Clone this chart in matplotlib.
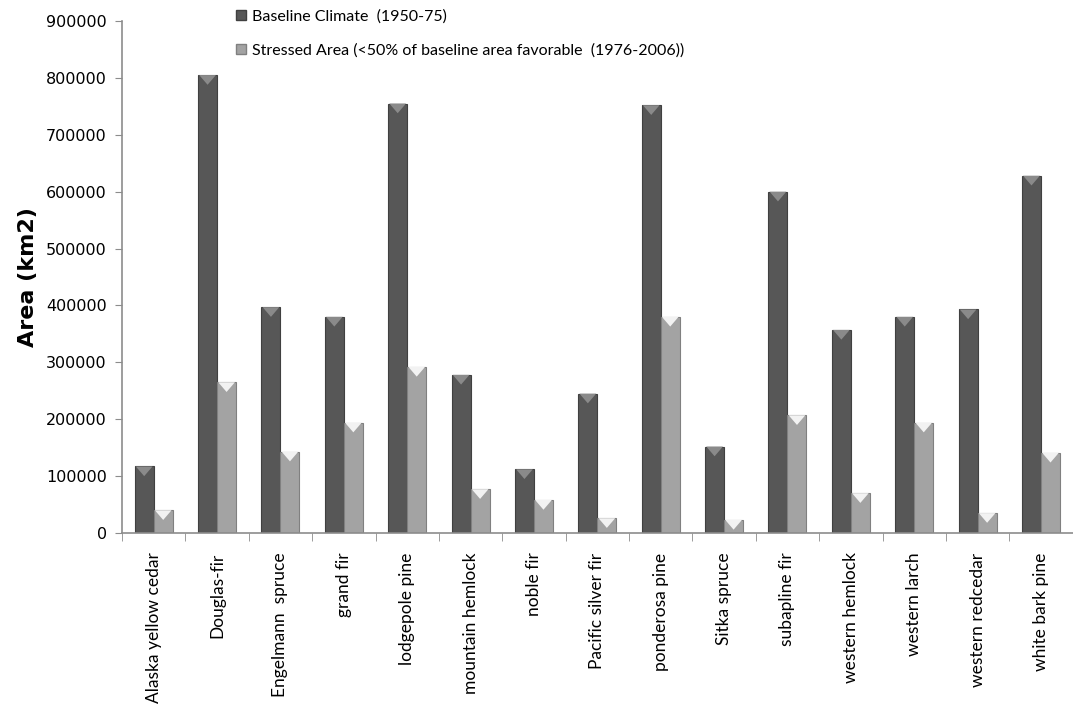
import numpy as np
import matplotlib.pyplot as plt
from matplotlib.patches import Patch, Polygon

species = ["Alaska yellow cedar", "Douglas-fir", "Engelmann  spruce", "grand fir",
           "lodgepole pine", "mountain hemlock", "noble fir", "Pacific silver fir",
           "ponderosa pine", "Sitka spruce", "subapline fir", "western hemlock",
           "western larch", "western redcedar", "white bark pine"]
baseline = [117000, 805000, 397000, 380000, 755000, 278000, 112000, 245000,
            752000, 152000, 600000, 357000, 380000, 393000, 628000]
stressed = [40000, 265000, 143000, 194000, 292000, 77000, 58000, 26000,
            380000, 23000, 207000, 70000, 194000, 35000, 141000]

label_font = ["Lato", "DejaVu Sans"]

fig = plt.figure(figsize=(10.73, 7.10), dpi=100)
ax = fig.add_axes([0.1137, 0.2493, 0.886, 0.7211])

x = np.arange(len(species))
w = 0.30
b1 = ax.bar(x - w / 2, baseline, w, color="#575757", edgecolor="#404040", linewidth=0.8)
b2 = ax.bar(x + w / 2, stressed, w, color="#a3a3a3", edgecolor="#808080", linewidth=0.8)

ax.set_xlim(-0.5, len(species) - 0.5)
ax.set_ylim(0, 900000)

# bevelled top on each bar
depth = 0.019 * 900000
for bars, shade in [(b1, "#8a8a8a"), (b2, "#f2f2f2")]:
    for p in bars:
        x0, bw, h = p.get_x(), p.get_width(), p.get_height()
        ax.add_patch(Polygon([(x0 + 0.06 * bw, h), (x0 + 0.94 * bw, h),
                              (x0 + 0.5 * bw, h - depth)],
                             closed=True, facecolor=shade, edgecolor="none", zorder=3))

ax.set_yticks(np.arange(0, 900001, 100000))
ax.set_yticklabels([str(v) for v in range(0, 900001, 100000)], fontsize=11.5)

# category labels in the middle, tick marks at the boundaries
ax.set_xticks(x)
ax.set_xticklabels(species, rotation=90, fontsize=12.5, family=label_font)
ax.tick_params(axis="x", length=0, pad=14)
ax.set_xticks(np.arange(-0.5, len(species), 1), minor=True)
ax.tick_params(axis="x", which="minor", length=6, color="#8c8c8c")
ax.tick_params(axis="y", length=5, color="#8c8c8c", pad=6)

for s in ["top", "right"]:
    ax.spines[s].set_visible(False)
for s in ["left", "bottom"]:
    ax.spines[s].set_color("#8c8c8c")
    ax.spines[s].set_linewidth(1.2)

ax.set_ylabel("Area (km2)", fontsize=16, fontweight="bold", family="DejaVu Sans",
              labelpad=6)

handles = [Patch(facecolor="#575757", edgecolor="#404040"),
           Patch(facecolor="#a3a3a3", edgecolor="#808080")]
fig.legend(handles, ["Baseline Climate  (1950-75)",
                     "Stressed Area (<50% of baseline area favorable  (1976-2006))"],
           loc="upper left", bbox_to_anchor=(0.207, 1.007), frameon=False,
           prop={"family": label_font, "size": 11.5}, handlelength=0.6,
           handleheight=0.6, handletextpad=0.4, labelspacing=1.25)

fig.savefig("out.png", dpi=100)
